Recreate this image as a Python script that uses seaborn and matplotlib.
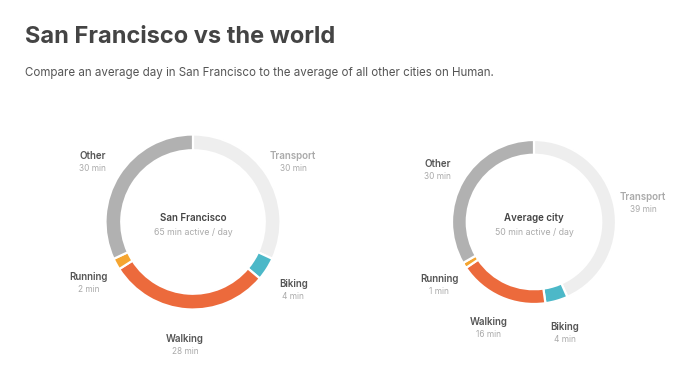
import numpy as np
import matplotlib.pyplot as plt
import seaborn as sns

# data
categories = ["Transport", "Biking", "Walking", "Running", "Other"]
sf_minutes = [30, 4, 28, 2, 30]
avg_minutes = [39, 4, 16, 1, 30]
colors = ["#eeeeee", "#4cb8c8", "#ec6a3c", "#f5a530", "#b1b1b1"]
name_colors = ["#aaaaaa", "#555555", "#555555", "#555555", "#555555"]

sns.set_theme(style="white")
plt.rcParams["font.family"] = ["Inter", "DejaVu Sans"]

W, H = 680, 378
fig = plt.figure(figsize=(6.8, 3.78), dpi=100)

fig.text(25 / W, 1 - 37 / H, "San Francisco vs the world", fontsize=17,
         fontweight="bold", color="#444444", va="center", ha="left")
fig.text(25 / W, 1 - 73 / H,
         "Compare an average day in San Francisco to the average of all other cities on Human.",
         fontsize=8.3, color="#555555", va="center", ha="left")

LIM = 1.6


def donut(cx, cy, r, values, title, subtitle):
    size = 2 * LIM * r
    ax = fig.add_axes([(cx - size / 2) / W, 1 - (cy + size / 2) / H, size / W, size / H])
    ax.pie(values, colors=colors, startangle=90, counterclock=False, radius=1,
           wedgeprops=dict(width=0.18, edgecolor="white", linewidth=1.6))
    ax.set_xlim(-LIM, LIM)
    ax.set_ylim(-LIM, LIM)
    ax.set_aspect("equal")
    ax.axis("off")

    total = sum(values)
    start = 0.0
    for cat, v, nc in zip(categories, values, name_colors):
        mid = np.deg2rad((start + v / 2) / total * 360)
        start += v
        x, y = 1.36 * np.sin(mid), 1.36 * np.cos(mid)
        ax.annotate(cat, (x, y), xytext=(0, 1.5), textcoords="offset points",
                    ha="center", va="center", fontsize=7, fontweight="semibold",
                    color=nc)
        ax.annotate(f"{v} min", (x, y), xytext=(0, -7.5), textcoords="offset points",
                    ha="center", va="center", fontsize=6, color="#aaaaaa")

    ax.annotate(title, (0, 0), xytext=(0, 2.8), textcoords="offset points",
                ha="center", va="center", fontsize=7, fontweight="semibold", color="#444444")
    ax.annotate(subtitle, (0, 0), xytext=(0, -7.5), textcoords="offset points",
                ha="center", va="center", fontsize=6.3, color="#aaaaaa")


donut(193, 222, 87.5, sf_minutes, "San Francisco", "65 min active / day")
donut(534, 222, 82, avg_minutes, "Average city", "50 min active / day")

fig.savefig("out.png", dpi=100)
